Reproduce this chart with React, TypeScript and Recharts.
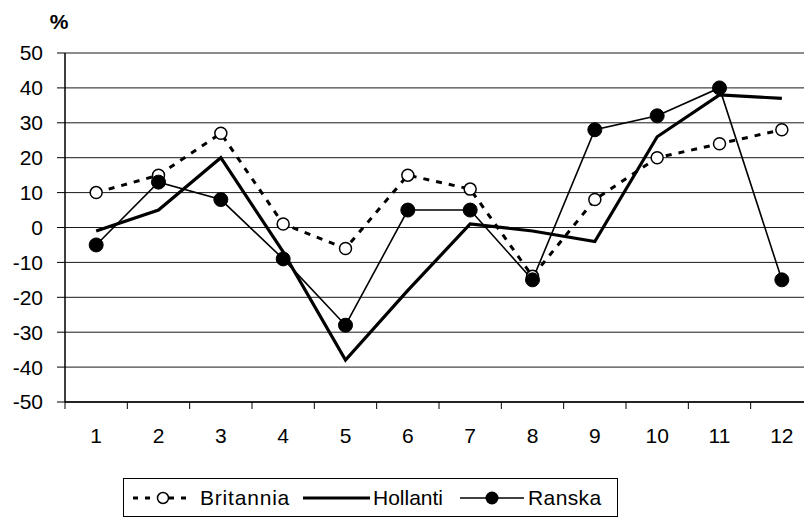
import React from 'react';
import { LineChart, Line, XAxis, YAxis, CartesianGrid, Legend } from 'recharts';

// months 1..12
const months = ['1', '2', '3', '4', '5', '6', '7', '8', '9', '10', '11', '12'];
const britannia = [10, 15, 27, 1, -6, 15, 11, -14, 8, 20, 24, 28];
const hollanti = [-1, 5, 20, -7, -38, -18, 1, -1, -4, 26, 38, 37];
const ranska = [-5, 13, 8, -9, -28, 5, 5, -15, 28, 32, 40, -15];
const yTicks = [-50, -40, -30, -20, -10, 0, 10, 20, 30, 40, 50];

const data = months.map((m, i) => ({
    month: m,
    Britannia: britannia[i],
    Hollanti: hollanti[i],
    Ranska: ranska[i],
}));

const FONT = '"Liberation Sans", Arial, sans-serif';
const CHART_W = 813;
const PLOT_LEFT = 65;
const STEP = (CHART_W - PLOT_LEFT) / months.length;

const MonthTick = (props: any) => {
    const { x, y, payload, index } = props;
    const last = index === months.length - 1;
    return (
        <g>
            <line x1={x - STEP / 2} y1={y} x2={x - STEP / 2} y2={y + 7} stroke="#000" />
            {last && <line x1={x + STEP / 2} y1={y} x2={x + STEP / 2} y2={y + 7} stroke="#000" />}
            <text x={x} y={y + 41} textAnchor="middle" fontSize={21} fontFamily={FONT} fill="#000">
                {payload.value}
            </text>
        </g>
    );
};

const item = (left: number): React.CSSProperties => ({ position: 'absolute', left, top: 0, height: 37, display: 'flex', alignItems: 'center' });

const LegendBox = () => (
    <div
        style={{
            position: 'relative',
            boxSizing: 'border-box',
            height: 39,
            width: 495,
            border: '1px solid #000',
            fontFamily: FONT,
            fontSize: 21,
            color: '#000',
        }}
    >
        <div style={item(8)}>
            <svg width={62} height={20}>
                <line x1={1} y1={10} x2={61} y2={10} stroke="#000" strokeWidth={3} strokeDasharray="5 7" />
                <circle cx={31} cy={10} r={5.5} fill="#fff" stroke="#000" strokeWidth={1.5} />
            </svg>
        </div>
        <div style={{ ...item(76), letterSpacing: 0.8 }}>Britannia</div>
        <div style={item(179)}>
            <svg width={67} height={20}>
                <line x1={0} y1={10} x2={67} y2={10} stroke="#000" strokeWidth={3} />
            </svg>
        </div>
        <div style={item(249)}>Hollanti</div>
        <div style={item(336)}>
            <svg width={64} height={20}>
                <line x1={0} y1={10} x2={64} y2={10} stroke="#000" strokeWidth={1.5} />
                <circle cx={32} cy={10} r={6.5} fill="#000" />
            </svg>
        </div>
        <div style={{ ...item(404), letterSpacing: 0.4 }}>Ranska</div>
    </div>
);

export default function App() {
    return (
        <div
            style={{
                position: 'fixed',
                left: 0,
                top: 0,
                width: 804,
                height: 518,
                overflow: 'hidden',
                background: '#fff',
            }}
        >
            <LineChart width={CHART_W} height={518} data={data} margin={{ top: 53, right: 0, bottom: 1, left: 0 }}>
                <CartesianGrid vertical={false} stroke="#1a1a1a" strokeWidth={1} />
                <XAxis
                    dataKey="month"
                    height={76}
                    padding={{ left: STEP / 2, right: STEP / 2 }}
                    axisLine={{ stroke: '#000', strokeWidth: 1.5 }}
                    tickLine={false}
                    tickSize={0}
                    tickMargin={0}
                    interval={0}
                    tick={<MonthTick />}
                />
                <YAxis
                    width={PLOT_LEFT}
                    domain={[-50, 50]}
                    ticks={yTicks}
                    interval={0}
                    axisLine={{ stroke: '#000', strokeWidth: 1.5 }}
                    tickLine={{ stroke: '#000' }}
                    tickSize={8}
                    tickMargin={14}
                    tick={{ fontSize: 21, fontFamily: FONT, fill: '#000' }}
                    label={{
                        content: ({ viewBox }: any) => (
                            <text
                                x={viewBox.x + 59}
                                y={viewBox.y - 24}
                                textAnchor="middle"
                                fontSize={21}
                                fontWeight="bold"
                                fontFamily={FONT}
                                fill="#000"
                            >
                                %
                            </text>
                        ),
                    }}
                />
                <Legend
                    verticalAlign="bottom"
                    content={<LegendBox />}
                    wrapperStyle={{ left: 123, width: 495, height: 39 }}
                />
                <Line
                    dataKey="Britannia"
                    stroke="#000"
                    strokeWidth={3}
                    strokeDasharray="6 7"
                    dot={{ r: 6, fill: '#fff', stroke: '#000', strokeWidth: 1.5, strokeDasharray: '0' }}
                    isAnimationActive={false}
                />
                <Line dataKey="Hollanti" stroke="#000" strokeWidth={3.2} dot={false} isAnimationActive={false} />
                <Line
                    dataKey="Ranska"
                    stroke="#000"
                    strokeWidth={1.6}
                    dot={{ r: 7, fill: '#000', stroke: '#000', strokeWidth: 1 }}
                    isAnimationActive={false}
                />
            </LineChart>
        </div>
    );
}
